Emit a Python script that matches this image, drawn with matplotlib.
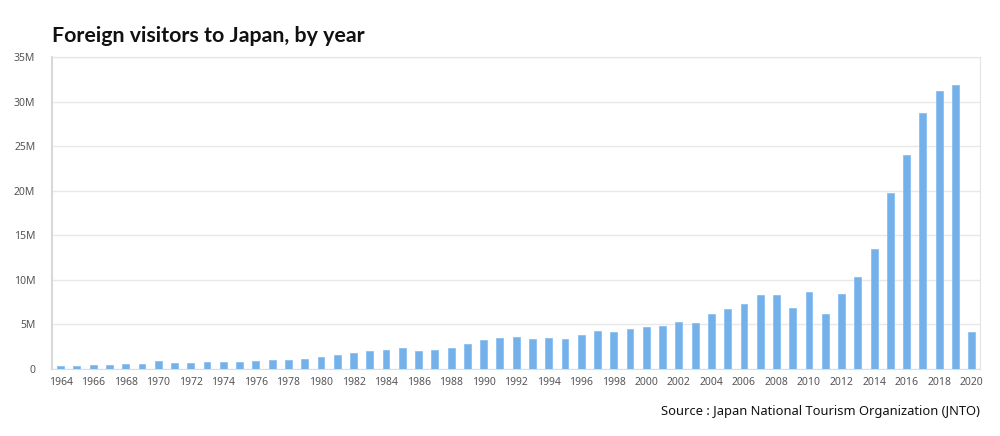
import matplotlib
matplotlib.use("Agg")
from matplotlib import pyplot as plt
from matplotlib.ticker import FuncFormatter

years = list(range(1964, 2021))

# visitors, millions
visitors = [0.35, 0.37, 0.43, 0.48, 0.52, 0.61, 0.85, 0.66, 0.72, 0.78,
            0.76, 0.81, 0.91, 1.03, 1.04, 1.11, 1.32, 1.58, 1.79, 1.97,
            2.11, 2.33, 2.06, 2.15, 2.36, 2.84, 3.24, 3.53, 3.58, 3.41,
            3.47, 3.35, 3.84, 4.22, 4.11, 4.44, 4.76, 4.77, 5.24, 5.21,
            6.14, 6.73, 7.33, 8.35, 8.35, 6.79, 8.61, 6.22, 8.36, 10.36,
            13.41, 19.74, 24.04, 28.69, 31.19, 31.88, 4.12]

yticks = [0, 5, 10, 15, 20, 25, 30, 35]

plt.rcParams['font.family'] = ['Noto Sans', 'DejaVu Sans']

fig = plt.figure(figsize=(10, 4.36), dpi=100)
ax = fig.add_axes([0.052, 0.1537, 0.928, 0.7153])

x = list(range(len(years)))
ax.bar(x, visitors, width=0.42, color='#74b0ea', edgecolor='#8cc0f0', linewidth=0.6, zorder=3)

ax.set_xlim(-0.53, len(years) - 0.49)
ax.set_ylim(0, 35)
ax.set_yticks(yticks)
ax.yaxis.set_major_formatter(FuncFormatter(lambda v, p: '0' if v == 0 else f'{int(v)}M'))
ax.set_xticks(x[::2])
ax.set_xticklabels([str(y) for y in years[::2]])

ax.grid(axis='y', color='#e8e8e8', linewidth=1, zorder=0)
ax.tick_params(length=0, labelsize=7.5, colors='#555555')
ax.tick_params(axis='y', pad=12)
ax.tick_params(axis='x', pad=6)

ax.spines['left'].set_color('#d8d8d8')
ax.spines['left'].set_linewidth(1.5)
ax.spines['right'].set_color('#e4e4e4')
ax.spines['top'].set_color('#e4e4e4')
ax.spines['bottom'].set_color('#cfe0f3')

fig.text(0.052, 0.918, 'Foreign visitors to Japan, by year', fontsize=15.4, fontweight='bold',
         family=['Lato', 'DejaVu Sans'], color='#111111', va='center', ha='left')
fig.text(0.98, 0.057, 'Source : Japan National Tourism Organization (JNTO)', fontsize=9.3,
         color='#111111', va='center', ha='right')

fig.savefig('out.png', dpi=100)
